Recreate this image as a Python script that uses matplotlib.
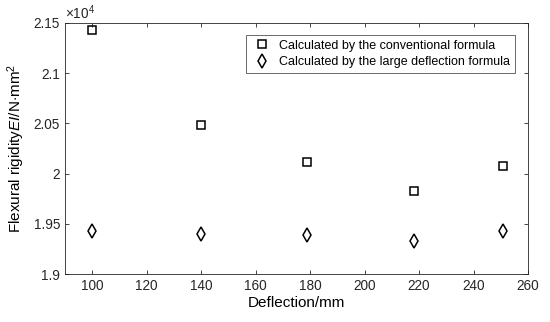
import matplotlib.pyplot as plt
from matplotlib.ticker import FuncFormatter

plt.rcParams['font.family'] = ['Liberation Sans', 'DejaVu Sans']
plt.rcParams['mathtext.fontset'] = 'custom'
plt.rcParams['mathtext.rm'] = 'Liberation Sans'
plt.rcParams['mathtext.it'] = 'Liberation Sans:italic'

# data
deflection = [100, 140, 179, 218, 251]
conventional = [21425, 20480, 20112, 19822, 20075]
large_deflection = [19430, 19400, 19390, 19325, 19430]
labels = ['Calculated by the conventional formula',
          'Calculated by the large deflection formula']
scale = 1e4

# plot
fig = plt.figure(figsize=(5.5, 3.22), dpi=100)
ax = fig.add_axes([0.118, 0.149, 0.842, 0.78])

ax.plot(deflection, [v / scale for v in conventional], 's', ms=5.8,
        mfc='none', mec='black', mew=1.1, label=labels[0])
ax.plot(deflection, [v / scale for v in large_deflection], 'd', ms=7.2,
        mfc='none', mec='black', mew=1.1, label=labels[1])

ax.set_xlim(90, 260)
ax.set_ylim(1.9, 2.15)
ax.set_xticks(range(100, 261, 20))
ax.set_yticks([1.9, 1.95, 2.0, 2.05, 2.1, 2.15])
ax.yaxis.set_major_formatter(FuncFormatter(lambda v, p: f'{v:g}'))
ax.tick_params(direction='in', top=True, right=True, labelsize=9.8,
               length=3, width=0.6, colors='#262626')
for s in ax.spines.values():
    s.set_linewidth(0.6)
    s.set_color('#262626')

ax.text(0, 1.003, r'$\times$10$^4$', transform=ax.transAxes,
        fontsize=9.8, ha='left', va='bottom', color='#262626')

ax.set_xlabel('Deflection/mm', fontsize=11, labelpad=2)
ax.set_ylabel(r'Flexural rigidity$EI$/N$\cdot$mm$^2$', fontsize=11, labelpad=5)

leg = ax.legend(loc='upper right', bbox_to_anchor=(0.985, 0.975), fontsize=9,
                fancybox=False, edgecolor='#262626', handletextpad=0.5,
                borderpad=0.35, labelspacing=0.35, handlelength=1.8)
leg.get_frame().set_linewidth(0.6)

fig.savefig('out.png', dpi=100)
